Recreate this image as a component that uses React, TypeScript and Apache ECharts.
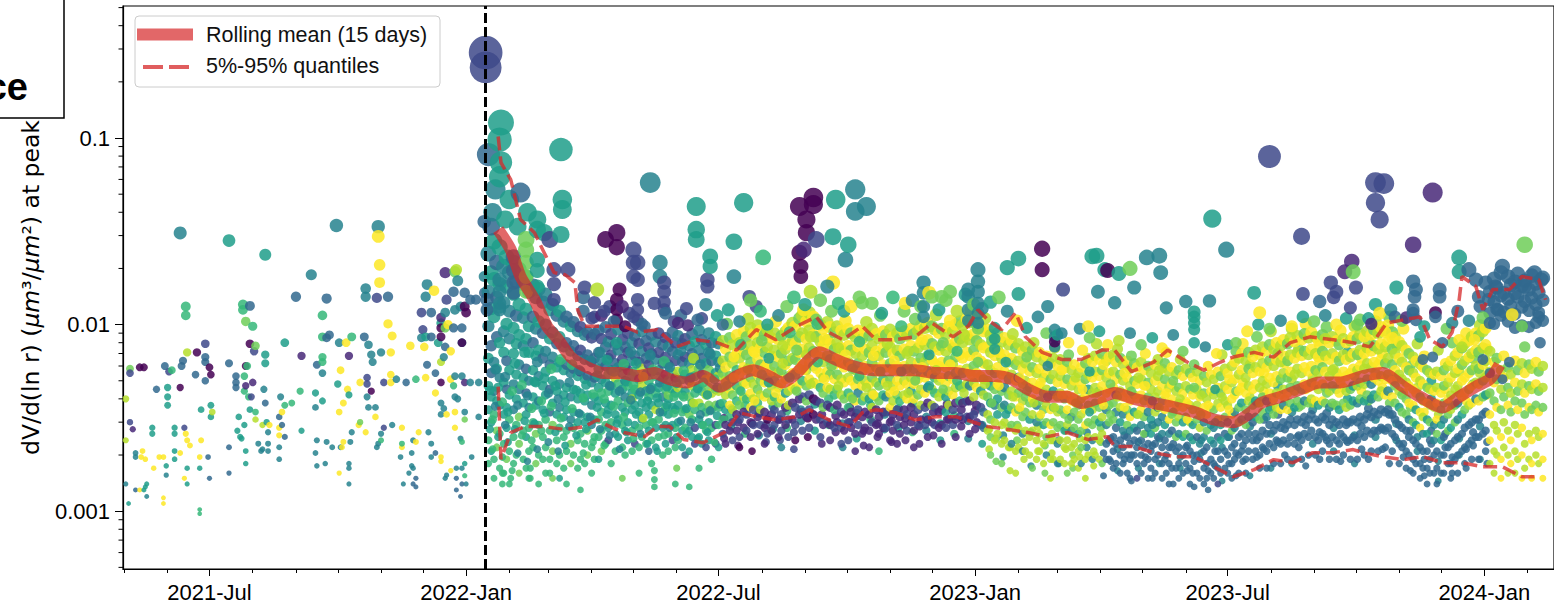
import React, { useEffect, useRef } from "react";
import * as echarts from "echarts";

// ---------- axes ----------
const X_MIN_DATE = "2021-04-30";
const X_MAX_DATE = "2024-02-20";
const ERUPTION_DAY = 260; // days after 2021-04-30 -> 2022-01-15
const X_MAJOR = ["2021-07-01", "2022-01-01", "2022-07-01", "2023-01-01", "2023-07-01", "2024-01-01"];
const X_MINOR = [
  "2021-05-01", "2021-06-01", "2021-07-01", "2021-08-01", "2021-09-01", "2021-10-01", "2021-11-01", "2021-12-01",
  "2022-01-01", "2022-02-01", "2022-03-01", "2022-04-01", "2022-05-01", "2022-06-01", "2022-07-01", "2022-08-01",
  "2022-09-01", "2022-10-01", "2022-11-01", "2022-12-01", "2023-01-01", "2023-02-01", "2023-03-01", "2023-04-01",
  "2023-05-01", "2023-06-01", "2023-07-01", "2023-08-01", "2023-09-01", "2023-10-01", "2023-11-01", "2023-12-01",
  "2024-01-01", "2024-02-01",
];
const MONTHS = ["Jan", "Feb", "Mar", "Apr", "May", "Jun", "Jul", "Aug", "Sep", "Oct", "Nov", "Dec"];
const Y_MIN = 0.00049;
const Y_MAX = 0.51;
const Y_MINOR = [
  0.0005, 0.0006, 0.0007, 0.0008, 0.0009,
  0.002, 0.003, 0.004, 0.005, 0.006, 0.007, 0.008, 0.009,
  0.02, 0.03, 0.04, 0.05, 0.06, 0.07, 0.08, 0.09,
  0.2, 0.3, 0.4, 0.5,
];
const UNIT = 1e-4; // all values below are in units of 1e-4 um3/um2

// ---------- scatter rows: [dayAfter 2021-04-30, colourIndex, values...] ----------
const PRE_ROWS = [
  [2,8,40,24],[2,4,14],[4,5,11],[5,7,58],[5,2,55,30],[7,1,27.5],[9,4,20.5,19.5],[9,3,13],[12,0,59],[12,9,13],[13,9,19.5],
  [14,9,21],[15,0,59],[15,5,13],[16,9,19],[16,5,13.5],[17,5,14],[17,4,12],[21,5,28,26],[22,9,17],[24,3,45],[26,9,19.5],
  [29,9,19.5,11.8,11],[30,3,60],[31,5,17.5],[31,4,15.6],[32,5,46,41,37],[33,2,56],[35,6,57],[37,5,28,26,21,19],[41,4,310],
  [41,0,46],[41,9,20.5],[42,3,60],[43,3,64],[44,2,28],[44,9,15],[45,6,125,112],[45,9,26],[46,8,71],[46,9,24],[46,5,17,14],
  [48,9,22.5],[52,3,54],[53,0,71],[55,9,19.5],[55,5,17],[55,6,10.2,9.7],[56,5,35],[56,9,24],[59,2,79],[59,3,67,63,50],
  [61,3,19.5],[62,0,59],[62,3,15],[63,0,54],[63,5,37,32],[64,8,34],[76,5,282],[76,3,62,22,16],[81,3,53,49,46],[82,5,27],
  [83,5,32],[84,5,25],[85,5,24.5],[86,6,128,120],[87,6,53,44],[87,5,29],[88,7,104],[88,0,60],[88,1,47],[88,5,21,18],
  [89,6,60],[90,6,41],[91,3,126],[91,0,79],[91,5,35],[92,2,41],[93,6,98],[93,1,49],[94,2,72],[95,7,77],[95,6,34],[95,8,31],
  [97,4,23],[99,4,21],[100,4,21.5],[100,8,29],[101,4,45],[102,5,237],[102,5,69,62],[102,3,38],[103,5,30],[104,4,26.5,23,21],
  [105,9,29],[112,9,28,25.5],[112,3,32],[112,4,22,19],[113,4,41],[114,9,34],[114,3,29],[116,5,80],[116,6,37],[116,3,25],
  [121,6,38],[124,3,141],[127,6,44],[128,1,68],[128,5,27],[135,4,185],[138,5,43],[138,4,36,20.5],[139,3,61],[139,4,24,17.5],
  [143,6,112,86,67,63],[143,4,55],[143,5,39],[145,4,18],[146,3,138,85],[146,4,23.5],[148,3,88],[150,4,22],[153,4,340],
  [154,5,48],[155,4,80],[155,9,34,16],[156,9,57],[156,4,22],[157,9,22],[158,9,38,23.5],[160,9,80],[161,9,45],[162,5,42],
  [162,1,68],[162,4,18,17,14],[163,4,23.5],[164,6,86],[164,4,26.5],[169,9,29],[170,9,49],[170,7,30],[173,3,86],
  [174,4,156,141],[174,9,26.5],[175,2,52,48],[175,4,41],[176,4,78,36],[178,4,69],[178,0,44],[179,4,63],[181,4,36],[181,9,32],
  [182,2,139],[182,4,22],[183,4,335,23],[183,9,297],[184,9,209,168],[185,4,71,26],[185,6,24],[187,2,49,28],[190,3,141],
  [190,9,101],[192,9,71,54,49],[193,9,87],[193,4,29],[196,4,51],[199,4,19.5],[200,9,22,28],[200,6,23],[201,4,14],[203,3,49],
  [205,4,16],[206,9,77],[207,4,20.5,17.5],[208,4,24,17],[208,3,14],[210,9,23.5],[210,6,51],[210,3,15,13.5],[212,9,26.5],
  [214,2,116],[214,4,85],[215,2,94],[216,9,76],[217,9,52],[217,5,86],[217,4,141],[218,3,61],[218,4,164],[219,4,26.5],
  [221,3,116,86],[221,4,19.5,23],[223,9,152],[224,3,55,20.5],[224,9,43],[226,5,80],[228,5,102],[228,1,109],[228,0,96,86,49],
  [228,8,63],[228,4,38,33],[228,9,18.5,19.5],[230,4,67,35.5],[231,1,190],[231,4,116,15],[231,7,96],[231,3,76],[232,2,136],
  [232,9,33],[232,4,15.6],[233,9,100],[235,9,72,51,16.5],[237,3,150,96],[237,6,47],[238,7,192],[238,4,120,53,41],
  [238,9,34,28],[239,8,197],[239,4,17],[239,3,15,13],[240,4,172,40],[242,4,125,24.5],[242,3,12],[243,3,96,14],[243,4,80,53,17],
  [243,0,80],[243,6,23.5],[245,3,148],[245,0,125],[245,1,49],[245,4,34],[245,7,31],[245,5,18],[245,6,15.5],[246,0,116],
  [246,4,14],[249,3,136],[249,4,49],[250,4,19.5],[253,3,136],[255,4,49,32],[259,4,181],[259,3,356,148],
];

const POST_OUTLIERS = [
  [260,2,2870,2390],[261,3,136,120],[262,3,815],[264,3,335],[265,4,400],[267,4,530],[270,5,980,620],[270,4,174,150,130,120],
  [271,5,1210,740],[274,5,366],[277,5,468],[280,3,230,195,168,148],[283,5,335],[285,3,510],[289,7,286,252,215,181,150],
  [290,5,400],[297,5,366,323,223,195,160],[302,5,311],[306,2,286],[309,2,197,165,136],[314,5,867,304],[315,5,468,414],
  [319,2,197],[330,3,140,118],[331,2,158],[336,2,108],[338,2,131,110],[340,8,154],[343,1,112],[346,0,286],[349,2,125],
  [354,0,311,260,136,120,106],[356,0,154],[360,0,98],[363,2,115],[366,2,252,215,181],[369,2,215,174,136,120,106],[372,3,101],
  [378,4,577],[385,4,215,181],[388,2,168,150,132,120],[395,2,104],[400,3,112],[405,1,99],[411,5,430,323,286],[415,2,108],
  [419,2,174,160],[421,5,232,205],[430,3,100],[438,5,278],[438,4,181],[445,5,450],[449,2,141],[454,2,125],[459,6,229],
  [485,0,430,243],[486,0,205,181],[488,1,252],[490,0,366,311],[495,0,480,440],[497,2,286],[509,5,296],[509,9,168],
  [511,5,468],[518,4,223],[520,5,268],[525,4,530,404],[533,4,430],
  [345,2,118],[352,3,104],[358,1,125],[366,2,110],[374,3,98],[381,2,130],[389,3,115],[398,1,102],[404,2,122],[412,3,106],
  [418,4,128],[426,5,112],[434,5,120],[442,4,104],[450,7,135],[457,6,118],[462,5,100],[470,4,112],[476,7,125],[481,6,140],
  [489,5,128],[493,8,150],[500,7,135],[505,4,160],[513,6,130],[517,5,118],[522,9,125],[528,7,140],[530,7,131],[537,7,130],
  [544,5,115],[552,6,140],[560,7,118],[561,9,130],[566,4,135],[572,7,125],[574,4,168,148,125,110],[578,9,148],[580,7,141],
  [585,5,120],[587,7,141],[590,7,135],[593,7,150],[598,8,118],[604,5,145],[606,4,154,141,120,105],[610,7,128],
  [613,4,197,170,150,130,115,102],[616,4,122],[622,5,132],[625,5,96,84,74],[628,7,140],[634,5,202],[634,4,118],[641,9,105],
  [642,5,226,146],[648,5,96],[656,4,110],[659,0,255,197],[662,7,90],[663,4,125],[668,4,94,86,76],[668,0,81],[670,5,88],
  [673,4,90],[674,2,154],[678,9,80],[686,4,95],[692,9,98],[693,7,85],[695,5,232],[698,5,234],[699,4,150],[700,5,92],
  [704,5,197],[706,0,195],[706,9,78],[711,4,131],[714,5,188],[714,8,82],[722,7,200],[722,4,90],[725,4,158],[730,7,78],
  [734,4,229],[738,5,85],[743,4,234],[744,4,190],[745,9,75],[748,4,123],[753,4,88],[760,7,72],[762,4,133],
  [768,5,117,110,102,94,80],[776,4,76],[779,4,134],[781,5,370],[784,9,70],[791,4,252],[792,5,78],[798,7,80],[806,9,92],
  [811,5,148],[814,5,100],[815,9,116],[822,2,796],[822,7,95],[830,4,105],[838,9,98],[845,2,297],[846,2,146],[846,5,110],
  [854,7,104],[858,3,133],[862,4,112],[866,2,168],[868,2,140],[870,2,150],[870,9,100],[876,1,192],[877,5,108],[880,2,123],
  [881,1,218],[882,7,192],[884,2,158],[885,7,100],[887,7,106],[893,5,108],[895,1,101],[898,2,577,450],[898,5,128],
  [901,2,366],[901,9,115],[904,2,570],[905,9,91],[909,4,120],[910,9,85],[912,3,110],[913,5,158],[917,7,105],[920,1,109],
  [925,1,268],[925,3,170,120,115],[926,3,141],[927,3,154,106],[930,5,86],[932,3,65],[933,5,98],[939,1,510],[939,3,67],
  [941,0,116],[941,3,110],[944,3,154,141],[946,3,80],[949,7,95],[953,4,102],[957,3,118],[958,5,229,192],[958,9,83],
  [960,8,76],[965,3,197],[965,4,105],[969,9,83],[970,3,174],[972,3,141],[973,3,125],[975,7,109],[975,3,65],[977,3,168],
  [979,3,136],[980,3,102,55],[984,3,160],[986,3,120],[989,3,205,51],[994,3,63],[996,9,113],[998,3,170],[1003,7,98],
  [1005,3,160],[1005,7,268,76],[1012,3,190],[1015,3,110],[1016,3,80],[1017,3,174],
  [272,6,16,14],[278,6,15],[292,6,17,15],[306,6,16],[313,5,15],[381,6,16.5,14.8,13.5],[397,7,17],[406,6,13.5],
];

const BAND_2022A = [
  [262,4,240,150,98],[262,5,66,47,35],[262,6,24,18],[264,5,190,122],[264,3,77,55],[264,5,41,30,21],
  [266,5,280,175,110],[266,4,63,44],[266,6,33,19,15],[268,3,215,140,86],[268,5,58,39],[268,7,27,22],
  [270,5,260,165,124,80],[270,4,52,37],[270,6,26,17],[273,4,205,131,92],[273,5,71,49,33],[273,6,23,16],
  [275,5,230,160,101],[275,3,64,45],[275,5,36,28],[275,7,19],[277,4,190,118,84],[277,5,57,42],[277,6,31,21,14],
  [280,5,215,146,96,70],[280,4,48,35],[280,6,25,18],[282,3,170,112],[282,5,79,54,40],[282,6,29,20],
  [284,5,198,128,88],[284,4,61,45],[284,7,32,23,16],[287,4,165,109,77],[287,5,52,38],[287,6,27,19],
  [289,5,180,121,84],[289,3,58,43],[289,5,33,25],[289,6,17],[291,5,150,98,71],[291,4,50,36],[291,6,28,21,15],
  [294,3,162,110,80],[294,5,57,41],[294,6,30,22],[296,4,140,95],[296,5,68,49,37],[296,7,26,18],
  [298,5,155,104,73],[298,4,53,39],[298,6,29,20,14],[301,3,132,90,66],[301,5,47,35],[301,6,25,19],
  [303,4,145,100,72],[303,5,56,42],[303,6,31,22,16],[306,5,120,84],[306,3,61,45,34],[306,6,27,19],
  [308,4,128,91,67],[308,5,50,38],[308,7,29,21,15],[311,3,112,79],[311,5,59,44,33],[311,6,24,18],
  [313,5,118,86,63],[313,4,48,36],[313,6,28,20],[316,4,104,76],[316,5,57,42,32],[316,6,25,17],
  [318,3,110,80,61],[318,5,46,35],[318,6,27,21,14],[321,5,98,72],[321,4,55,41,31],[321,7,23,18],
  [323,3,103,77,58],[323,5,45,34],[323,6,28,20],[326,4,92,68],[326,5,53,40,30],[326,6,24,17],
  [328,2,97,73,56],[328,5,43,33],[328,6,26,19,13],[331,4,88,65],[331,5,51,39,30],[331,6,23,18],
  [333,3,91,69,53],[333,5,42,32],[333,7,27,20],[336,2,85,63],[336,4,49,37,29],[336,6,22,16],
  [338,3,89,66,52],[338,5,41,31],[338,6,25,19],
  [341,3,93,71],[341,5,58,46,39],[341,6,31,25],[341,5,19],[343,2,84],[343,4,64,51],[343,6,43,34,27],[343,7,21],
  [346,3,97,76,60],[346,5,49,38],[346,6,29,23],[348,4,81,66],[348,6,54,44],[348,5,35,28],[348,2,24],
  [350,2,89,69],[350,5,57,47,37],[350,6,30],[350,6,18],[353,3,78,62],[353,8,52],[353,5,43,33,26],[353,6,21],
  [355,4,94,73,59],[355,6,48,39],[355,5,31,25],[358,2,83,65],[358,5,55,45,36],[358,6,29,22],[358,7,15],
  [360,3,76,60],[360,4,50,41],[360,5,34,27],[360,6,20],[362,2,90,71,57],[362,6,47,38],[362,5,30,24],
  [365,4,80,64],[365,5,53,43,35],[365,8,40],[365,6,27,21],[367,3,87,68],[367,6,56,45],[367,5,37,29],[367,2,23],
  [370,2,79,63,51],[370,5,42,34],[370,6,28,22,16],[372,4,92,72],[372,8,58,47],[372,5,38,31],[372,6,25],
  [375,3,82,66],[375,5,54,44,36],[375,6,29,23],[377,2,75,61],[377,6,50,41],[377,5,33,27],[377,3,21],
  [379,3,88,70,56],[379,5,46,37],[379,6,30,24,18],[382,4,81,65],[382,6,53,43],[382,8,35],[382,5,28,22],
  [384,2,90,71],[384,5,57,46,38],[384,6,31,25],[387,3,78,62],[387,4,51,41],[387,5,34,28],[387,6,20],
  [389,2,85,67,54],[389,6,45,36],[389,5,29,23],[391,4,76,61],[391,5,50,40,33],[391,7,42],[391,6,26,21],
  [394,3,91,72],[394,6,55,45],[394,5,36,29],[394,2,24],[396,2,80,64,52],[396,5,43,35],[396,6,28,22,14],
  [398,4,87,69],[398,8,56,46],[398,5,37,30],[398,6,24],[401,3,79,63],[401,6,51,42,34],[401,5,27,22],
  [403,2,84,67],[403,5,54,44],[403,6,35,28],[403,3,20],[406,4,77,62,50],[406,7,41,33],[406,5,27,21],
  [408,3,89,70],[408,8,57,47],[408,6,38,31],[408,5,25],[410,5,81,65],[410,6,53,43,35],[410,2,28,23],
  [413,4,93,73],[413,7,58,47],[413,8,38],[413,5,31,25],[413,6,17],[415,3,83,66,54],[415,6,44,36],[415,5,29,23],
  [418,5,78,62],[418,8,51,42],[418,6,34,27],[418,2,22],[420,4,90,71],[420,7,57,46,37],[420,5,30,24],
  [422,3,80,64],[422,8,52,43],[422,6,35,28],[422,6,19],[425,5,86,68,55],[425,7,45,37],[425,2,29,23],
  [427,4,79,63],[427,8,53,44],[427,6,36,29],[427,5,22],
];

const BAND_2022B = [
  [430,8,82,64],[430,7,55,46],[430,6,38,31],[430,2,26],[432,9,74,59],[432,8,50,42],[432,5,35],[432,1,29,23],
  [435,7,85,67,53],[435,9,45,37],[435,6,32],[435,1,27],[437,8,78,62],[437,7,51,42],[437,8,35],[437,2,30,24],
  [440,9,88,70],[440,6,57,47,39],[440,1,33,27],[442,8,80,66],[442,9,54],[442,7,45,37],[442,2,31,25],[442,0,22],
  [445,9,92,73,59],[445,8,49,41],[445,1,34,28],[447,7,86,69],[447,9,57,48],[447,6,40],[447,2,33,27],
  [450,8,96,77],[450,7,63,52],[450,9,43,36],[450,1,30,25],[452,9,89,72,58],[452,8,48,40],[452,2,35,29],
  [455,8,99,80],[455,9,65,54],[455,7,45],[455,6,38],[455,1,32,26],[457,9,93,75],[457,7,61,50],[457,8,42,35],[457,2,29],
  [460,7,88,71],[460,9,59,49,41],[460,1,34,28,23],[462,8,94,76],[462,9,62],[462,7,52,43],[462,0,31],[462,2,26],
  [465,9,85,68,56],[465,8,47,39],[465,1,33,27],[467,8,90,73],[467,7,60,50],[467,6,41],[467,2,35,29],
  [470,9,83,67],[470,8,55,46],[470,7,38],[470,1,31,25],[472,7,87,70,57],[472,9,48,40],[472,2,33,27],[472,4,22],
  [475,8,92,74],[475,9,61,51],[475,5,43],[475,1,36,29],[477,9,96,78],[477,7,64,53],[477,8,44,37],[477,2,31,25],
  [480,8,102,82,66],[480,9,55,46],[480,1,38,31],[482,9,98,79],[482,7,65,54],[482,8,45],[482,2,36,29],[482,0,24],
  [485,7,108,86],[485,9,71,58,48],[485,1,40,33],[487,8,112,90],[487,9,74,61],[487,6,50],[487,2,41,34,27],
  [490,9,104,84],[490,8,69,57],[490,7,47,39],[490,1,32],[492,8,116,93,75],[492,9,62,51],[492,2,42,35,28],
  [495,9,110,88],[495,7,72,60],[495,8,49],[495,0,40,33],[497,7,106,86],[497,9,70,58,48],[497,1,39,31],
  [500,8,100,81],[500,9,67,55],[500,6,46],[500,2,38,31,25],[502,9,95,77],[502,8,63,52],[502,7,43,36],[502,1,29],
  [505,8,103,83,68],[505,9,56,46],[505,2,37,30],[507,9,97,79],[507,7,65,54],[507,8,45],[507,1,36,29,24],
  [510,7,91,74],[510,9,61,51],[510,6,42,35],[510,2,28],[512,8,98,80],[512,9,66],[512,7,54,45],[512,1,37,30],
  [515,9,93,75,62],[515,8,51,42],[515,2,34,28,23],[517,8,88,72],[517,9,59,49],[517,7,40],[517,1,33,27],
  [520,9,95,77],[520,8,63,52],[520,6,43,36],[520,2,30,24],
  [522,7,90,73],[522,9,60,50],[522,8,41],[522,1,34,28],[525,8,86,70,57],[525,9,47,39],[525,1,32,26,21],
  [527,9,93,76],[527,7,62,51],[527,4,43],[527,2,35,29],[530,8,84,68],[530,9,56,47],[530,6,39],[530,1,32,26],
  [532,9,91,74,60],[532,8,50,41],[532,1,34,28],[535,7,87,71],[535,9,58,48],[535,5,40],[535,1,33,27,22],
  [537,8,95,77],[537,7,63,52],[537,8,43,36],[537,2,30],[540,9,89,72],[540,8,59,49,41],[540,1,35,29],
  [542,8,84,68],[542,9,56],[542,7,47,39],[542,1,32,26],[542,6,21],[545,9,92,75,61],[545,6,51,42],[545,1,34,28],
  [547,7,88,71],[547,9,59,49],[547,4,41],[547,2,34,28],[550,8,94,76],[550,7,62,51],[550,9,43,36],[550,1,30,24],
  [552,9,86,70,57],[552,8,47,39],[552,1,33,27],[555,8,90,73],[555,9,60,50],[555,7,42],[555,2,35,29],[555,1,23],
  [557,7,84,68],[557,9,56,47],[557,6,39],[557,1,32,26],[560,9,92,74,60],[560,8,50,42],[560,1,35,29],
  [562,8,87,70],[562,7,58],[562,9,48,40],[562,2,33,27],[565,9,95,77],[565,8,63,52],[565,5,44],[565,1,36,30],
  [567,7,89,72,58],[567,9,48,40],[567,1,33,27,22],[570,8,93,75],[570,9,62,51],[570,7,42],[570,2,35,29],
  [572,9,99,80],[572,7,66,54],[572,8,45,37],[572,1,31],[575,8,96,78,63],[575,9,52,43],[575,2,36,29],
  [577,9,102,83],[577,7,68,56],[577,4,46],[577,1,38,31,25],[580,7,98,79],[580,9,65,54],[580,8,45,37],[580,1,30],
  [582,8,94,76],[582,9,62],[582,6,52,43],[582,2,36,29],[585,9,90,73,60],[585,8,50,41],[585,1,34,28],
  [587,7,95,77],[587,9,63,52],[587,8,43],[587,1,35,29,23],[590,8,89,72],[590,9,59,49],[590,5,41,34],[590,2,28],
  [592,9,97,78],[592,7,64,53],[592,8,44,37],[592,1,31],[595,8,92,75,61],[595,9,51,42],[595,2,35,29],
  [597,9,100,81],[597,7,67,55],[597,8,46],[597,1,38,31,25],[600,7,104,84],[600,9,69,57],[600,6,47,39],[600,2,32],
  [602,8,99,80],[602,9,66],[602,7,55,46],[602,1,38,31],[605,9,108,87,71],[605,8,58,48],[605,2,39,32],
  [607,8,103,83],[607,9,68,56],[607,4,47],[607,1,39,32,26],[610,9,110,89],[610,7,73,60],[610,8,49,41],[610,2,33],
  [612,7,101,82],[612,9,67,55,46],[612,1,37,30],[615,8,96,78],[615,9,64,53],[615,5,44],[615,2,36,29],
  [617,9,92,75,62],[617,8,51,42],[617,3,34,28],
];

const BAND_2023A = [
  [620,9,94,76],[620,8,61,50],[620,7,41],[620,8,33,27],[622,8,88,71,57],[622,5,47,38],[622,7,31,25,20],
  [625,9,84,68],[625,7,55,45],[625,4,37],[625,8,30,24],[627,7,90,73],[627,9,59,48],[627,5,40,33],[627,8,26],
  [630,8,81,66],[630,9,54],[630,7,44,36],[630,8,29,23],[630,7,18],[632,9,85,69,56],[632,4,46,37],[632,8,30,24],
  [635,8,78,63],[635,7,51,42],[635,5,35],[635,8,28,22],[637,9,82,66],[637,8,54,44],[637,7,36,29],[637,4,23],
  [640,7,75,61],[640,9,50,41,34],[640,8,27,21,16],[642,8,79,64],[642,5,52],[642,7,43,35],[642,8,28,22],
  [645,9,72,58],[645,8,48,39],[645,7,32],[645,4,26,21],[647,8,76,62,50],[647,7,41,34],[647,8,27,21],
  [650,9,69,56],[650,7,46,38],[650,5,31],[650,8,25,20],[652,7,73,59],[652,9,49,40],[652,8,33,27],[652,7,17],
  [655,8,67,55],[655,9,45],[655,4,37,30],[655,8,24,19],[657,9,71,58,47],[657,7,39,32],[657,8,26,21],
  [660,8,64,52],[660,7,43,35],[660,5,29],[660,8,23,18],[662,9,68,55],[662,8,45,37],[662,7,30,25],[662,4,20],
  [665,7,62,51],[665,9,42,35,29],[665,8,24,19,15],[667,8,66,54],[667,5,44],[667,7,36,30],[667,8,24,19],
  [670,9,60,49],[670,8,41,34],[670,7,28],[670,4,23,18],[672,8,65,53,43],[672,7,35,29],[672,8,24,19],
  [675,9,58,48],[675,7,40,33],[675,5,27],[675,8,22,18],[677,7,63,51],[677,9,42,35],[677,8,29,24],[677,7,16],
  [680,8,57,47],[680,9,39],[680,4,32,27],[680,8,22,18],[682,9,61,50,41],[682,7,34,28],[682,8,23,19],
  [685,8,55,45],[685,7,37,31],[685,5,26],[685,8,21,17],[687,9,59,48],[687,8,40,33],[687,7,27,22],[687,4,18],
  [690,7,62,51],[690,9,42,35,29],[690,8,24,19,15],[692,8,66,54],[692,5,45],[692,7,37,30],[692,8,25,20],
  [695,9,63,52],[695,8,43,35],[695,7,29],[695,4,24,19],[697,8,68,56,46],[697,7,38,31],[697,8,25,20],
  [700,9,65,53],[700,7,44,36],[700,5,30],[700,8,24,19],[702,7,70,57],[702,9,47,39],[702,8,32,26],[702,7,18],
  [705,8,64,52],[705,9,43],[705,4,35,29],[705,3,23,19],[707,9,67,55,45],[707,7,37,30],[707,3,24,19],
  [710,8,69,56],[710,9,46],[710,7,38,31],[710,3,25,21,17],[712,9,63,51],[712,4,42,34],[712,3,28,23,18],
  [715,7,66,54],[715,8,44,36],[715,5,30],[715,3,24,20,16],[717,8,61,50],[717,9,41],[717,4,33,27],[717,3,22,18],
  [720,9,64,52,43],[720,7,35,29],[720,3,25,20,16],[722,8,58,47],[722,9,39,32],[722,4,27],[722,3,23,19,15],
  [725,7,62,50],[725,8,42],[725,5,34,28],[725,3,24,20],[727,9,59,48,40],[727,7,33],[727,3,27,22,18],[727,2,15],
  [730,8,63,51],[730,9,42,35],[730,4,29],[730,3,24,20,16],[732,9,57,47],[732,8,39],[732,7,32,26],[732,3,22,18],
  [735,7,60,49,41],[735,4,34,28],[735,3,23,19,15],[737,8,55,45],[737,9,38],[737,5,31,26],[737,3,21,17],
  [740,9,61,50],[740,8,41,34],[740,7,28],[740,3,23,19,16],[742,8,65,53,44],[742,4,36,30],[742,3,25,20],
  [745,9,58,47],[745,7,39],[745,4,32,26],[745,3,22,18,15],[747,7,62,51],[747,9,42,35],[747,5,29],[747,3,24,19],
  [750,8,56,46],[750,9,38,31],[750,4,26],[750,3,22,18,14],[752,9,59,48,40],[752,7,33],[752,3,27,22,17],
  [755,8,54,44],[755,9,36],[755,7,30,25],[755,3,21,17],[757,7,57,46],[757,8,38,32],[757,4,26],[757,3,22,18,15],
  [760,9,53,43,36],[760,5,30,25],[760,3,20,16],[762,8,58,47],[762,9,39],[762,7,32,26],[762,3,22,18],
  [765,7,55,45],[765,8,37,30],[765,4,25],[765,3,21,17,14],[767,9,52,42],[767,8,35],[767,5,29,24],[767,3,20,16],
  [770,8,56,45,37],[770,7,31],[770,3,25,20,16],[772,9,50,41],[772,8,34,28],[772,4,23],[772,3,19,15],
  [775,7,53,43],[775,9,36],[775,4,30,25],[775,3,21,17,14],[777,8,49,40],[777,9,33],[777,7,27],[777,3,22,18,15],
  [780,9,54,44,36],[780,5,29,24],[780,3,19,16],[782,8,51,42],[782,7,35],[782,4,28,23],[782,3,18,15],
  [785,9,56,46],[785,8,38,31],[785,3,25,21,17],[785,2,14],[787,7,53,43],[787,9,36],[787,5,29,24],[787,3,19,16],
  [790,8,58,47,39],[790,7,32],[790,3,26,21,17],[792,9,55,45],[792,8,37],[792,4,30,25],[792,3,20,16],
  [795,8,60,49],[795,9,40,33],[795,7,27],[795,3,22,18,15],[797,9,63,51,42],[797,4,34,28],[797,3,23,19],
];

const BAND_2023B = [
  [800,8,66,54],[800,9,44],[800,7,36,30],[800,3,25,20,16],[802,9,70,57,46],[802,5,38,31],[802,3,26,21],
  [805,8,64,52],[805,9,43],[805,7,35,29],[805,3,24,19,16],[807,7,71,58],[807,8,47,39],[807,4,32],[807,3,26,21],
  [810,9,67,55,45],[810,7,37],[810,3,30,24,19],[812,8,73,59],[812,9,48],[812,5,39,32],[812,3,26,21],
  [815,9,69,56],[815,8,46,38],[815,7,31],[815,3,25,20,17],[817,8,76,62,50],[817,7,41,34],[817,3,27,22],
  [820,9,72,59],[820,8,48],[820,4,39,32],[820,3,26,21,17],[822,7,78,64],[822,9,52,43],[822,5,35],[822,3,29,23],
  [825,8,74,60],[825,9,49,40],[825,7,33],[825,3,27,22,18],[827,9,80,65,53],[827,8,43,36],[827,3,29,24],
  [830,8,77,63],[830,7,51],[830,9,42,35],[830,3,28,23,18],[832,9,83,68],[832,8,55,45],[832,4,37],[832,3,30,24],
  [835,7,79,64,52],[835,9,43,35],[835,3,29,23,19],[837,8,85,69],[837,9,56],[837,7,46,38],[837,3,31,25],
  [840,9,81,66],[840,8,54,44],[840,5,36],[840,3,29,23,19],[842,8,87,71,58],[842,7,47,39],[842,3,31,25],
  [845,9,83,68],[845,8,55],[845,7,45,37],[845,3,30,24,19],[847,7,89,72],[847,9,59,48],[847,4,39],[847,3,32,26],
  [850,8,85,69],[850,9,56,46],[850,7,38],[850,3,31,25,20],[852,9,91,74,60],[852,8,49,40],[852,3,33,27],
  [855,8,86,70],[855,7,57],[855,9,47,39],[855,3,31,25,20],[857,9,82,67],[857,8,55,45],[857,5,37],[857,3,30,24],
  [860,7,88,72,59],[860,9,48,39],[860,3,32,26,21],[862,8,84,68],[862,9,56],[862,7,46,38],[862,3,31,25],
  [865,9,80,65],[865,8,53,44],[865,4,36],[865,3,29,23,19],[867,8,86,70,57],[867,7,47,38],[867,3,31,25],
  [870,9,82,67],[870,8,55],[870,7,45,37],[870,3,30,24,19],[872,7,78,64],[872,9,52,43],[872,5,35],[872,3,29,23],
  [875,8,84,69],[875,9,56,46],[875,7,38],[875,3,31,25,20],[877,9,80,65,53],[877,8,44,36],[877,3,29,24],
  [880,8,82,67],[880,9,55],[880,7,45,37],[880,3,30,24,19],[882,9,86,70,58],[882,5,47,39],[882,3,31,25],
  [885,7,84,69],[885,8,57,47],[885,4,38],[885,3,30,24,19],[887,8,89,73],[887,9,60],[887,7,49,40],[887,3,32,26],
  [890,9,86,70],[890,8,58,48],[890,5,39],[890,3,31,25,20],[892,8,92,75,62],[892,7,51,42],[892,3,33,27],
  [895,9,88,72],[895,8,59],[895,4,48,40],[895,3,32,26,21],[897,7,94,77],[897,9,63,52],[897,5,42],[897,3,34,27],
  [900,8,90,74],[900,9,61,50],[900,7,41],[900,3,33,27,21],[902,9,97,79,65],[902,8,53,44],[902,3,35,28],
  [905,8,93,76],[905,7,62],[905,9,51,42],[905,3,34,27,22],[907,9,99,81],[907,8,66,54],[907,4,44],[907,3,35,28],
  [910,7,91,74,61],[910,9,50,41],[910,3,33,26,21],[912,8,86,70],[912,9,57],[912,7,47,38],[912,3,31,25],
  [915,9,81,66],[915,8,54,44],[915,5,36],[915,3,29,23,18],[917,8,77,63,51],[917,7,42,34],[917,3,28,22],
  [920,9,73,59],[920,8,49],[920,7,40,33],[920,3,27,21,17],[922,7,70,57],[922,9,47,38],[922,4,31],[922,3,25,20],
  [925,8,67,55],[925,9,45,37],[925,7,30],[925,3,24,19,16],[927,9,64,52,43],[927,5,35,29],[927,3,23,18],
  [930,8,61,50],[930,7,41],[930,9,34,28],[930,3,22,18,15],[932,9,59,48],[932,8,39,32],[932,4,26],[932,3,21,17],
  [935,7,57,46],[935,9,38],[935,5,31,26],[935,3,21,17,14],[937,8,55,45,37],[937,7,30],[937,3,24,19,16],
  [940,9,54,44],[940,8,36],[940,4,29,24],[940,3,20,16],[942,8,56,46],[942,9,38,31],[942,7,26],[942,3,21,17,14],
  [945,9,53,43],[945,7,35],[945,5,29,24],[945,3,20,16],[947,7,57,47,38],[947,4,31],[947,3,25,20,16],
  [950,8,60,49],[950,9,40],[950,7,33,27],[950,3,22,18],[952,9,64,52],[952,8,42,35],[952,5,28],[952,3,23,18,15],
  [955,8,68,55,45],[955,7,37,30],[955,3,24,19],[957,9,71,58],[957,8,47],[957,4,38,31],[957,3,25,20,16],
  [960,7,75,61],[960,9,50,41],[960,5,33],[960,3,26,21],[962,8,79,64],[962,9,52,43],[962,7,35],[962,3,28,22,18],
  [965,9,82,67,55],[965,8,45,37],[965,3,29,23],[967,8,86,70],[967,7,57],[967,9,47,38],[967,3,30,24,19],
  [970,9,90,73],[970,8,60,49],[970,4,40],[970,3,31,25],[972,7,87,71,58],[972,9,48,39],[972,3,31,25,19],
  [975,8,92,75],[975,9,61],[975,7,50,41],[975,3,33,26],[977,9,96,78],[977,8,64,52],[977,5,42],[977,3,34,27,21],
];

const BAND_2024 = [
  [980,3,150,115],[980,8,72,56],[980,7,43],[980,9,33,24],[980,8,18],[983,3,176,132,101],[983,9,63,49],[983,7,39],
  [983,8,29,21,16],[985,3,158,121],[985,7,66,51],[985,9,36],[985,8,27,20],[988,3,190,143,112],[988,8,57,45],[988,7,35],
  [988,9,25,19,15],[990,3,148,117],[990,9,68,52],[990,7,41],[990,8,30,22],[993,3,181,137,104],[993,7,59,46],[993,9,37],
  [993,8,27,20,16],[995,3,163,126],[995,8,54,43],[995,7,34],[995,9,24,18],[998,3,147,114,96],[998,9,64,49],[998,7,39],
  [998,8,29,21,16],[1000,3,187,141],[1000,7,57,44],[1000,9,35],[1000,8,26,19],[1003,3,162,124,99],[1003,8,62,48],
  [1003,7,38],[1003,9,28,20,15],[1005,3,172,133],[1005,9,55,43],[1005,7,33],[1005,8,23,17],[1008,3,154,119,97],
  [1008,7,61,47],[1008,9,36],[1008,8,26,19],[1010,3,183,139],[1010,8,58,45],[1010,7,35],[1010,9,24,18,15],
  [1013,3,166,128,102],[1013,9,63,48],[1013,7,37],[1013,8,27,20],[1015,3,149,116],[1015,7,56,44],[1015,9,34],
  [1015,8,25,18],[1018,3,178,135,105],[1018,8,60,46],[1018,7,36],[1018,9,26,19,15],
];

// in-between observations (filling the cloud between the rows above)
const FILL_EARLY = [
  [263,5,44.5,27.5],[265,6,31,21.5],[267,4,57.5,36.5],[269,5,25,46],[272,6,38.5,19.5],[274,4,52.5,29],[276,5,34,23.5],
  [279,6,44,16.5],[281,5,27.5,62],[283,4,37,20.5],[286,6,47.5,25.5],[288,5,30.5,71],[290,4,41.5,18.5],[293,6,24,35.5],
  [295,5,49.5,29.5],[297,4,21.5,63],[300,6,39,27],[302,5,33.5,51.5],[305,4,23.5,43],[307,6,36.5,58],[310,5,26.5,47],
  [312,4,40,21],[314,6,31.5,65],[317,5,22.5,38.5],[320,4,49,28.5],[322,6,35.5,61],[325,5,25.5,44.5],[327,4,57,33.5],
  [330,6,20.5,40.5],[332,5,47.5,27.5],[335,4,32,64],[337,6,42.5,23.5],[340,5,53.5,36],[342,4,27.5,71],[345,6,40,22.5],
  [347,5,64.5,33],[349,4,25.5,47],[352,6,36.5,56],[354,5,29.5,80],[356,4,44,21.5],[359,6,61.5,32],[361,5,26.5,49.5],
  [364,4,39.5,71.5],[366,6,24.5,47.5],[368,5,33,62],[371,4,43.5,26],[373,8,52.5,31.5],[376,5,23,39],[378,4,68.5,45],
  [380,6,30,57.5],[383,5,40.5,21],[385,4,49,34],[388,6,25.5,63.5],[390,5,37,46.5],[392,4,59,28],[395,6,33.5,41],
  [397,5,48.5,25],[400,4,30.5,72.5],[402,6,41,56.5],[404,5,26,35.5],[407,4,52,30],[409,8,38,66],[412,5,24.5,45.5],
  [414,4,61,33],[416,6,29,49],[419,5,42,26.5],[421,4,34.5,69.5],[424,6,23.5,51],[426,5,46,32.5],[428,4,37.5,58.5],
];
const FILL_LOW = [
  [431,1,31.5,24.5],[436,5,28.5,35.5],[441,1,22.5,30],[446,6,26,37],[451,0,29.5,21],[456,4,33.5,25.5],[461,2,23.5,29],
  [466,5,36.5,27.5],[471,2,24,31],[476,6,28,34.5],[481,2,21.5,26.5],[486,4,30.5,35],[491,0,25,31.5],[496,5,37.5,27],
  [501,1,23,33],[506,6,29,40],[511,1,26.5,32.5],[516,4,22,29.5],[521,1,30,36],[526,5,24.5,33.5],[531,1,27,22.5],
  [536,6,31,37],[541,1,25,29.5],[546,4,33,27.5],[551,1,23.5,30.5],[556,5,28,35.5],[561,1,24,31.5],[566,6,26.5,38],
  [571,1,23,28.5],[576,4,32,27],[581,1,25.5,34],[586,5,29.5,24],[591,1,31,37.5],[596,6,26,32.5],[601,1,28.5,35],
  [606,4,24.5,30.5],[611,1,27.5,34.5],[616,5,23,29],
  [621,8,21.5,27.5],[626,7,18.5,24.5],[631,4,25.5,19.5],[636,8,16.5,22],[641,7,24,29],[646,8,19,23.5],[651,4,26.5,17.5],
  [656,8,21,28.5],[661,7,16,22.5],[666,8,26,20.5],[671,4,18,24],[676,8,21.5,27],[681,7,17,20],[686,8,24.5,19.5],
  [691,4,22,26.5],[696,8,17.5,21],[701,7,23.5,28],
  [703,3,20.5,15.5],[708,3,24.5,18.5],[713,4,16.5,21.5],[718,3,25.5,19],[723,3,14.5,20],[728,4,23.5,17],[733,3,19.5,26],
  [738,3,15,22.5],[743,4,18,24.5],[748,3,20,16],[753,3,23,14],[758,4,17,19.5],[763,3,22.5,16.5],[768,3,13.5,18.5],
  [773,4,20.5,24],[778,3,16.5,13],[783,3,21,17.5],[788,4,14.5,22],[793,3,18,25],[798,3,15.5,20.5],
  [803,3,22.5,18.5],[808,4,28.5,15.5],[813,3,19.5,24],[818,3,31,21.5],[823,4,17,26],[828,3,23.5,33],[833,3,20,27.5],
  [838,4,34,18],[843,3,25.5,22],[848,3,29,17.5],[853,4,23,35],[858,3,19,26.5],[863,3,33.5,24],[868,4,21,28],
  [873,3,26,18.5],[878,3,30,23.5],[883,4,18,25.5],[888,3,28.5,21.5],[893,3,35.5,19],[898,4,25,31],[903,3,21.5,27.5],
  [908,3,33,18],[913,4,24,29.5],[918,3,19.5,23],[923,3,27,16.5],[928,4,21,25],[933,3,15.5,19],[938,3,23,27],
  [943,4,18.5,14.5],[948,3,22,26],[953,3,16,19.5],[958,4,24.5,20],[963,3,17,21.5],[968,3,26.5,22.5],[973,4,19,28.5],
  [978,3,23.5,18],
];
const FILL_HIGH = [
  [433,7,101,47],[438,9,67,52],[443,6,78,44],[448,8,58,107],[453,9,71,39],[458,7,82,54],[463,5,49,66],[468,9,104,43],
  [473,8,62,77],[478,6,52,91],[483,7,44,73],[488,9,57,120],[493,8,86,48],[498,6,63,101],[503,9,51,84],[508,7,118,60],
  [513,8,47,75],[518,9,69,105],[523,7,40,58],[528,6,81,53],[533,8,103,46],[538,9,68,42],[543,7,56,112],[548,8,79,47],
  [553,9,44,64],[558,6,98,56],[563,8,72,43],[568,7,107,50],[573,9,59,83],[578,5,47,69],[583,8,113,57],[588,7,45,80],
  [593,9,105,61],[598,6,50,72],[603,8,88,43],[608,9,120,54],[613,7,63,95],[618,8,48,108],
  [623,7,38,82],[628,9,71,47],[633,5,33,63],[638,8,89,41],[643,9,52,36],[648,7,67,44],[653,8,38,80],[658,9,49,33],
  [663,4,60,41],[668,8,75,36],[673,9,42,57],[678,7,31,69],[683,8,52,38],[688,9,73,45],[693,5,34,56],[698,8,43,79],
  [703,9,61,37],[708,7,48,33],[713,8,74,41],[718,9,36,55],[723,7,68,44],[728,8,33,52],[733,9,47,70],[738,4,39,29],
  [743,8,57,36],[748,9,71,43],[753,7,34,50],[758,8,65,40],[763,9,38,31],[768,7,61,46],[773,8,42,33],[778,9,60,37],
  [783,5,45,30],[788,8,69,41],[793,9,35,51],[798,7,44,72],
  [803,9,79,49],[808,8,41,61],[813,7,86,38],[818,9,55,44],[823,8,92,36],[828,5,47,70],[833,9,62,40],[838,8,95,51],
  [843,7,36,74],[848,9,101,45],[853,8,52,38],[858,9,77,64],[863,7,43,97],[868,8,58,37],[873,9,93,49],[878,5,40,71],
  [883,8,98,53],[888,9,44,66],[893,7,81,39],[898,8,104,55],[903,9,70,46],[908,7,110,38],[913,8,52,78],[918,9,43,95],
  [923,7,60,36],[928,8,79,46],[933,9,34,68],[938,5,50,40],[943,8,73,33],[948,9,45,62],[953,7,37,80],[958,8,56,43],
  [963,9,90,39],[968,7,48,66],[973,8,99,55],[978,9,42,74],
];

// ---------- rolling statistics: [dayAfter 2021-04-30, value in 1e-4] ----------
const ROLLING_MEAN = [
  [269,323],[278,252],[285,181],[295,136],[304,98],[312,83],[321,67],[331,60],[345,55],[357,55],[369,53],[381,55],[392,51],
  [404,49],[416,53],[428,46.5],[440,53],[452,57],[463,53],[473,49],[483,55],[492,65],[499,71],[511,65],[523,60],[538,57],
  [554,57],[568,57],[583,55],[597,55],[611,53],[625,53],[637,51],[649,45],[663,41],[677,41],[687,38],[702,41],[711,43],
  [725,40],[739,38],[754,36],[768,34],[782,31],[796,30],[809,34],[816,38],[830,41],[844,45],[858,49],[873,49],[889,53],
  [903,55],[918,46.5],[930,41],[946,36],[958,41],[970,46.5],[980,51],[987,61],
];
const QUANTILE_95 = [
  [269,1019],[271,739],[278,599],[285,366],[295,311],[302,243],[309,190],[317,185],[324,168],[326,120],[331,98],[345,98],
  [359,98],[369,91],[383,94],[397,76],[411,83],[426,80],[440,73],[454,94],[468,83],[483,98],[497,110],[506,91],[516,83],
  [530,98],[540,83],[554,83],[568,86],[580,102],[595,86],[606,98],[613,120],[620,106],[630,94],[640,116],[647,86],[659,71],
  [673,65],[687,65],[702,73],[711,73],[723,56],[739,63],[749,73],[763,63],[775,57],[787,63],[796,67],[811,71],[825,67],
  [837,80],[851,86],[868,83],[882,80],[894,76],[906,102],[918,106],[930,110],[937,83],[946,76],[953,91],[958,136],[960,181],
  [970,160],[975,120],[982,154],[989,154],[994,154],[1003,181],[1015,174],[1020,136],
];
const QUANTILE_05 = [
  [269,46.5],[271,19],[278,26.4],[288,28.4],[302,28.4],[317,27.4],[331,28.4],[340,30.9],[349,28.4],[359,26.4],[374,25.1],
  [383,28.4],[392,28.4],[402,24.2],[416,23.3],[431,26.4],[442,33.7],[454,32.1],[468,30.9],[483,32.1],[492,35],[506,30.9],
  [521,28.4],[530,33.7],[540,35],[554,33.7],[568,30.9],[583,32.1],[597,32.1],[611,29.8],[620,28.4],[635,27.4],[649,26.4],
  [663,25.1],[677,26.4],[692,24.2],[706,25.1],[711,22.2],[725,22.2],[739,20.6],[754,19.6],[768,19.6],[782,17.3],[796,15.3],
  [811,16.7],[825,18.9],[839,18.2],[853,20.6],[868,20.6],[882,21.4],[889,20.6],[903,19.6],[918,18.9],[932,19.6],[946,18.2],
  [960,18.2],[975,17.3],[989,17.3],[1003,15.3],[1012,15.3],
];

const VIRIDIS = ["#440154", "#482878", "#3e4989", "#31688e", "#26828e", "#1f9e89", "#35b779", "#6ece58", "#b5de2b", "#fde725"];
const RED = "#d62728";
const FONT = "'Liberation Sans', Arial, Helvetica, sans-serif";

const dateTs = (s: string) => {
  const [y, m, d] = s.split("-").map(Number);
  return new Date(y, m - 1, d).getTime();
};
const dayTs = (d: number) => new Date(2021, 3, 30 + d).getTime();
const expand = (rows: number[][]) => {
  const out: number[][] = [];
  rows.forEach((r) => {
    for (let i = 2; i < r.length; i++) out.push([dayTs(r[0]), r[i] * UNIT, r[1]]);
  });
  return out;
};
const toLine = (rows: number[][]) => rows.map((r) => [dayTs(r[0]), r[1] * UNIT]);

export default function App() {
  const ref = useRef<HTMLDivElement>(null);
  useEffect(() => {
    if (!ref.current) return;
    const chart = echarts.init(ref.current, undefined, { renderer: "svg" });
    const xMin = dateTs(X_MIN_DATE);
    const xMax = dateTs(X_MAX_DATE);
    const majorTs = X_MAJOR.map(dateTs);
    const minorTs = X_MINOR.map(dateTs);
    const postRows = [
      ...BAND_2022A, ...FILL_EARLY, ...FILL_LOW, ...BAND_2022B, ...BAND_2023A, ...FILL_HIGH, ...BAND_2023B, ...BAND_2024,
      ...POST_OUTLIERS,
    ];
    const axisLine = { show: true, lineStyle: { color: "#000", width: 1.2 } };
    const tickStyle = { color: "#000", width: 1 };
    const option = {
      animation: false,
      grid: { left: 123, right: -8, top: 6, bottom: 37, show: true, borderColor: "#000", borderWidth: 1.2 },
      xAxis: [
        {
          type: "value", min: xMin, max: xMax, position: "bottom", scale: true,
          axisLine,
          axisTick: { show: true, customValues: minorTs, length: 4, lineStyle: tickStyle },
          axisLabel: { show: false },
          splitLine: { show: false },
        },
        {
          type: "value", min: xMin, max: xMax, position: "bottom", scale: true,
          axisLine: { show: false },
          axisTick: { show: true, customValues: majorTs, length: 7, lineStyle: tickStyle },
          axisLabel: {
            show: true, customValues: majorTs, fontSize: 22, fontFamily: FONT, color: "#000", margin: 12,
            formatter: (v: number) => {
              const d = new Date(v);
              return d.getFullYear() + "-" + MONTHS[d.getMonth()];
            },
          },
          splitLine: { show: false },
        },
      ],
      yAxis: [
        {
          type: "log", logBase: 10, min: Y_MIN, max: Y_MAX,
          axisLine,
          axisTick: { show: true, length: 8, lineStyle: tickStyle },
          axisLabel: {
            fontSize: 22, fontFamily: FONT, color: "#000", margin: 13, showMinLabel: false, showMaxLabel: false,
            formatter: (v: number) => String(+v.toPrecision(2)),
          },
          splitLine: { show: false },
          name: "dV/d(ln r) ({i|μm}³/{i|μm}²) at peak",
          nameLocation: "middle",
          nameRotate: 90,
          nameGap: 80,
          nameTextStyle: {
            fontFamily: "'DejaVu Sans', sans-serif", fontSize: 23.5, color: "#000",
            rich: { i: { fontFamily: "'DejaVu Sans', sans-serif", fontSize: 23.5, fontStyle: "italic", color: "#000" } },
          },
        },
      ],
      series: [
        {
          type: "scatter", name: "before", xAxisIndex: 0, yAxisIndex: 0, silent: true, progressive: 0,
          data: expand(PRE_ROWS),
          symbolSize: (val: number[]) => 37 * Math.pow(val[1], 0.3),
          itemStyle: { color: (p: any) => VIRIDIS[p.value[2]], opacity: 0.85 },
        },
        {
          type: "scatter", name: "after", xAxisIndex: 0, yAxisIndex: 0, silent: true, progressive: 0,
          data: expand(postRows),
          symbolSize: (val: number[]) => 49 * Math.pow(val[1], 0.3),
          itemStyle: { color: (p: any) => VIRIDIS[p.value[2]], opacity: 0.85 },
        },
        {
          type: "custom", name: "minor y ticks", xAxisIndex: 0, yAxisIndex: 0, silent: true, clip: false,
          data: Y_MINOR.map((v) => [xMin, v]),
          renderItem: (params: any, api: any) => {
            const p = api.coord([api.value(0), api.value(1)]);
            return { type: "line", shape: { x1: p[0] - 4.5, y1: p[1], x2: p[0], y2: p[1] }, style: { stroke: "#000", lineWidth: 1 } };
          },
        },
        {
          type: "line", name: "5% quantile", xAxisIndex: 0, yAxisIndex: 0, data: toLine(QUANTILE_05), symbol: "none", silent: true,
          lineStyle: { color: RED, width: 3.5, type: [14, 6], opacity: 0.75 },
        },
        {
          type: "line", name: "95% quantile", xAxisIndex: 0, yAxisIndex: 0, data: toLine(QUANTILE_95), symbol: "none", silent: true,
          lineStyle: { color: RED, width: 3.5, type: [14, 6], opacity: 0.75 },
        },
        {
          type: "line", name: "Rolling mean (15 days)", xAxisIndex: 0, yAxisIndex: 0, data: toLine(ROLLING_MEAN), symbol: "none", silent: true,
          smooth: 0.25,
          lineStyle: { color: RED, width: 12, opacity: 0.7, cap: "butt", join: "round" },
          markLine: {
            silent: true, symbol: ["none", "none"], label: { show: false },
            lineStyle: { color: "#000", type: [10, 4], width: 3, opacity: 1 },
            data: [{ xAxis: dayTs(ERUPTION_DAY) }],
          },
        },
      ],
      graphic: [
        {
          type: "rect", z: 100, shape: { x: -10, y: -10, width: 74, height: 128 },
          style: { fill: "#fff", stroke: "#000", lineWidth: 1.5 },
        },
        {
          type: "text", z: 101, style: { text: "ce", x: 28, y: 106, align: "right", verticalAlign: "bottom", fontSize: 38, fontWeight: "bold", fontFamily: FONT, fill: "#000" },
        },
        {
          type: "rect", z: 100, shape: { x: 135, y: 16, width: 305, height: 71, r: 4 },
          style: { fill: "rgba(255,255,255,0.8)", stroke: "#cccccc", lineWidth: 1 },
        },
        {
          type: "line", z: 101, shape: { x1: 137, y1: 34.5, x2: 193, y2: 34.5 },
          style: { stroke: RED, lineWidth: 12, opacity: 0.7 },
        },
        {
          type: "line", z: 101, shape: { x1: 143, y1: 67, x2: 189, y2: 67 },
          style: { stroke: RED, lineWidth: 4, opacity: 0.75, lineDash: [20, 6] },
        },
        {
          type: "text", z: 101, style: { text: "Rolling mean (15 days)", x: 206, y: 35, verticalAlign: "middle", fontSize: 21.5, fontFamily: FONT, fill: "#111" },
        },
        {
          type: "text", z: 101, style: { text: "5%-95% quantiles", x: 206, y: 66, verticalAlign: "middle", fontSize: 21.5, fontFamily: FONT, fill: "#111" },
        },
      ],
    };
    chart.setOption(option as any);
    return () => chart.dispose();
  }, []);
  return <div ref={ref} style={{ position: "fixed", left: 0, top: 0, width: 1554, height: 606, background: "#fff" }} />;
}
